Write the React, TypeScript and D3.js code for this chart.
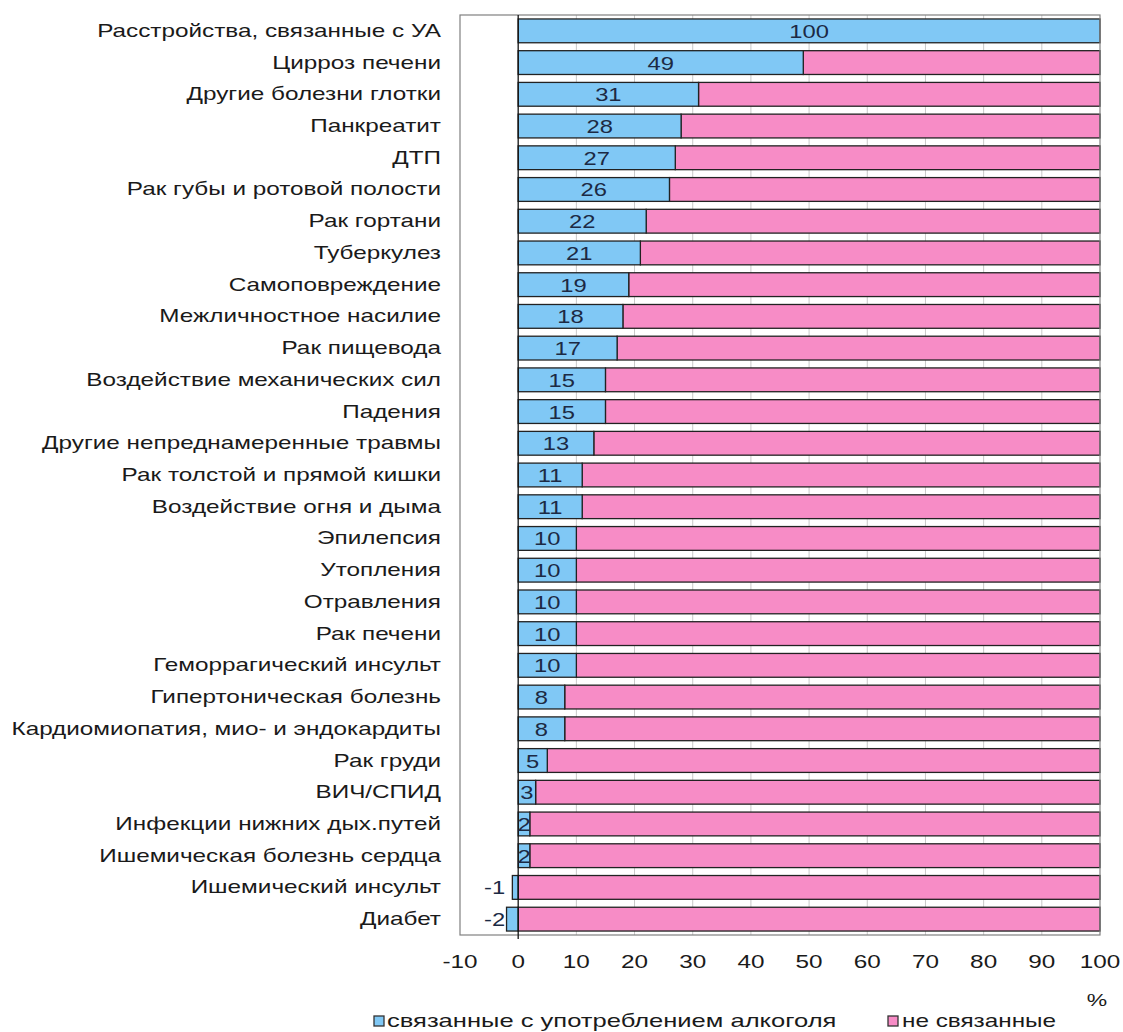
import React from "react";
import * as d3 from "d3";

const categories = [
  "Расстройства, связанные с УА",
  "Цирроз печени",
  "Другие болезни глотки",
  "Панкреатит",
  "ДТП",
  "Рак губы и ротовой полости",
  "Рак гортани",
  "Туберкулез",
  "Самоповреждение",
  "Межличностное насилие",
  "Рак пищевода",
  "Воздействие механических сил",
  "Падения",
  "Другие непреднамеренные травмы",
  "Рак толстой и прямой кишки",
  "Воздействие огня и дыма",
  "Эпилепсия",
  "Утопления",
  "Отравления",
  "Рак печени",
  "Геморрагический инсульт",
  "Гипертоническая болезнь",
  "Кардиомиопатия, мио- и эндокардиты",
  "Рак груди",
  "ВИЧ/СПИД",
  "Инфекции нижних дых.путей",
  "Ишемическая болезнь сердца",
  "Ишемический инсульт",
  "Диабет",
];

const alcoholValues = [100, 49, 31, 28, 27, 26, 22, 21, 19, 18, 17, 15, 15, 13, 11, 11, 10, 10, 10, 10, 10, 8, 8, 5, 3, 2, 2, -1, -2];
const otherValues = [0, 51, 69, 72, 73, 74, 78, 79, 81, 82, 83, 85, 85, 87, 89, 89, 90, 90, 90, 90, 90, 92, 92, 95, 97, 98, 98, 101, 102];
const xTicks = [-10, 0, 10, 20, 30, 40, 50, 60, 70, 80, 90, 100];
const legendLabels = ["связанные с употреблением алкоголя", "не связанные"];
const unitLabel = "%";

const BLUE = "#80C8F5";
const PINK = "#F78CC6";
const FONT = "Arial, 'Liberation Sans', sans-serif";
const SX = 1.35;

export default function App() {
  const W = 1123;
  const H = 1032;
  const x = d3.scaleLinear().domain([-10, 100]).range([460, 1100]);
  const y = d3
    .scaleBand<string>()
    .domain(categories)
    .range([15, 935])
    .paddingInner(0.25)
    .paddingOuter(0.125);
  const [xmin, xmax] = x.domain();
  const top = y.range()[0];
  const bottom = y.range()[1];
  const bw = y.bandwidth();

  const st = (tx: number, ty: number, s = SX) => `translate(${tx},${ty}) scale(${s},1)`;

  return (
    <svg
      width={W}
      height={H}
      style={{ position: "absolute", left: 0, top: 0, background: "#fff" }}
      fontFamily={FONT}
    >
      <rect x={0} y={0} width={W} height={H} fill="#fff" />
      {/* plot area */}
      <rect x={x(xmin)} y={top} width={x(xmax) - x(xmin)} height={bottom - top} fill="#fff" />
      {/* gridlines */}
      {xTicks
        .filter((t) => t !== 0 && t !== xmin && t !== xmax)
        .map((t) => (
          <line key={"g" + t} x1={x(t)} x2={x(t)} y1={top} y2={bottom} stroke="#c8c8c8" strokeWidth={1} />
        ))}
      {/* bars */}
      {categories.map((c, i) => {
        const a = alcoholValues[i];
        const o = otherValues[i];
        const y0 = y(c)!;
        const bStart = Math.min(0, a);
        const bEnd = Math.max(0, a);
        const pStart = Math.max(0, a);
        const pEnd = Math.min(xmax, pStart + o);
        return (
          <g key={c}>
            {pEnd > pStart && (
              <rect
                x={x(pStart)}
                y={y0}
                width={x(pEnd) - x(pStart)}
                height={bw}
                fill={PINK}
                stroke="#222"
                strokeWidth={1.3}
              />
            )}
            <rect
              x={x(bStart)}
              y={y0}
              width={x(bEnd) - x(bStart)}
              height={bw}
              fill={BLUE}
              stroke="#222"
              strokeWidth={1.3}
            />
          </g>
        );
      })}
      {/* plot border */}
      <rect
        x={x(xmin)}
        y={top}
        width={x(xmax) - x(xmin)}
        height={bottom - top}
        fill="none"
        stroke="#808080"
        strokeWidth={1.2}
      />
      {/* zero axis */}
      <line x1={x(0)} x2={x(0)} y1={top} y2={bottom + 4} stroke="#111" strokeWidth={1.3} />
      {/* value labels */}
      {categories.map((c, i) => {
        const a = alcoholValues[i];
        const cy = y(c)! + bw / 2 + 7;
        if (a < 0) {
          return (
            <text key={"v" + c} transform={st(x(0) - 13, cy, 1.25)} textAnchor="end" fontSize={19} fill="#1c2a44">
              {a}
            </text>
          );
        }
        return (
          <text
            key={"v" + c}
            transform={st((x(0) + x(a)) / 2, cy, 1.25)}
            textAnchor="middle"
            fontSize={19}
            fill="#1c2a44"
          >
            {a}
          </text>
        );
      })}
      {/* category labels */}
      {categories.map((c) => (
        <text
          key={"c" + c}
          transform={st(441, y(c)! + bw / 2 + 6)}
          textAnchor="end"
          fontSize={18}
          fill="#1a1a1a"
        >
          {c}
        </text>
      ))}
      {/* x tick labels */}
      {xTicks.map((t) => (
        <text key={"t" + t} transform={st(x(t), 968)} textAnchor="middle" fontSize={18} fill="#1a1a1a">
          {t}
        </text>
      ))}
      <text transform={st(1097, 1006)} textAnchor="middle" fontSize={17} fill="#1a1a1a">
        {unitLabel}
      </text>
      {/* legend */}
      <rect x={374} y={1016} width={10} height={10} fill={BLUE} stroke="#333" strokeWidth={1.3} />
      <text transform={st(387, 1027, 1.42)} fontSize={18} fill="#1a1a1a">
        {legendLabels[0]}
      </text>
      <rect x={888} y={1016} width={10} height={10} fill={PINK} stroke="#333" strokeWidth={1.3} />
      <text transform={st(902, 1027)} fontSize={18} fill="#1a1a1a">
        {legendLabels[1]}
      </text>
    </svg>
  );
}
